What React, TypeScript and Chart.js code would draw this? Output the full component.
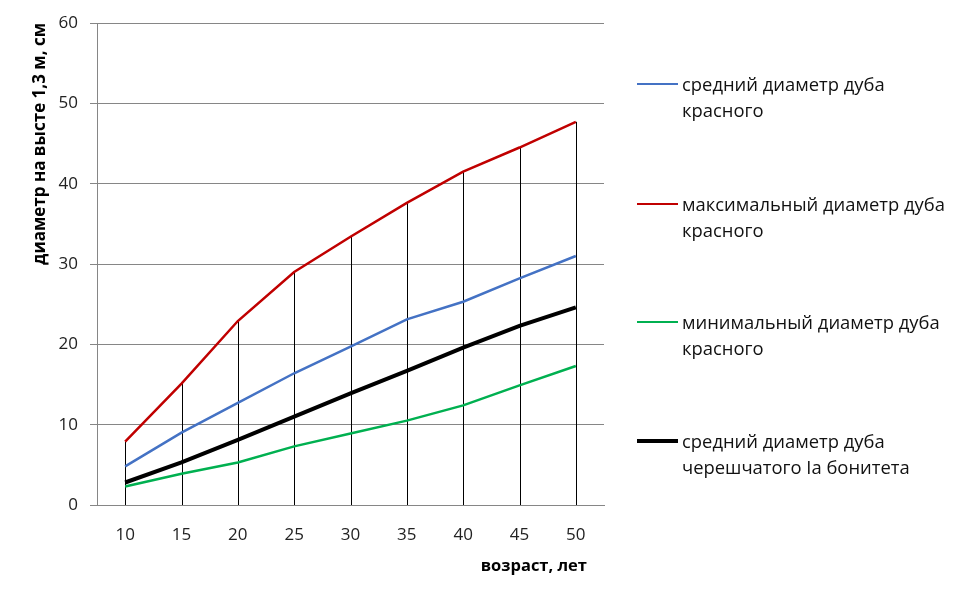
import React, { useEffect, useRef } from "react";
import { Chart, registerables } from "chart.js";

Chart.register(...registerables);

const ages = ["10", "15", "20", "25", "30", "35", "40", "45", "50"];
const meanRed = [4.8, 9.0, 12.7, 16.4, 19.7, 23.1, 25.3, 28.2, 31.0];
const maxRed = [7.9, 15.1, 22.9, 29.0, 33.4, 37.6, 41.5, 44.5, 47.7];
const minRed = [2.3, 3.9, 5.3, 7.3, 8.9, 10.5, 12.4, 14.9, 17.3];
const meanPedunculate = [2.8, 5.3, 8.1, 11.0, 13.9, 16.7, 19.6, 22.3, 24.6];

const seriesLabels = [
  ["средний диаметр дуба", "красного"],
  ["максимальный диаметр дуба", "красного"],
  ["минимальный диаметр дуба", "красного"],
  ["средний диаметр дуба", "черешчатого Ia бонитета"],
];
const seriesColors = ["#4472C4", "#C00000", "#00B050", "#000000"];
const seriesWidths = [2.5, 2.5, 2.5, 4];

const yTitle = "диаметр на высте 1,3 м, см";
const xTitle = "возраст, лет";

const FONT = "'Open Sans', 'DejaVu Sans', sans-serif";

// vertical drop lines from the max series to the x axis
const dropLines = {
  id: "dropLines",
  beforeDatasetsDraw(chart: any) {
    const meta = chart.getDatasetMeta(1);
    const base = chart.scales.y.getPixelForValue(0);
    const ctx = chart.ctx;
    ctx.save();
    ctx.strokeStyle = "#000";
    ctx.lineWidth = 1;
    meta.data.forEach((pt: any) => {
      const x = Math.round(pt.x) + 0.5;
      ctx.beginPath();
      ctx.moveTo(x, pt.y);
      ctx.lineTo(x, base);
      ctx.stroke();
    });
    ctx.restore();
  },
};

// x axis title, right-aligned a little inside the plot's right edge
const xTitlePlugin = {
  id: "xTitle",
  afterDraw(chart: any) {
    const { ctx, chartArea } = chart;
    ctx.save();
    ctx.font = `bold 16.5px ${FONT}`;
    ctx.fillStyle = "#000";
    ctx.textAlign = "right";
    ctx.textBaseline = "middle";
    ctx.fillText(xTitle, chartArea.right - 17, 566);
    ctx.restore();
  },
};

export default function App() {
  const canvasRef = useRef<HTMLCanvasElement | null>(null);

  useEffect(() => {
    document.body.style.margin = "0";
    if (!canvasRef.current) return;
    const ctx = canvasRef.current.getContext("2d")!;
    const data = [meanRed, maxRed, minRed, meanPedunculate];
    const chart = new Chart(ctx, {
      type: "line",
      data: {
        labels: ages,
        datasets: data.map((d, i) => ({
          label: seriesLabels[i].join(" "),
          data: d,
          borderColor: seriesColors[i],
          borderWidth: seriesWidths[i],
          pointRadius: 0,
          fill: false,
          tension: 0,
        })),
      },
      options: {
        animation: false,
        responsive: false,
        layout: { padding: { left: 26, top: 23, right: 360, bottom: 0 } },
        plugins: { legend: { display: false }, tooltip: { enabled: false } },
        scales: {
          x: {
            offset: true,
            grid: { display: false },
            border: { display: true, color: "#868686", width: 1 },
            ticks: { color: "#222", font: { family: FONT, size: 17 }, padding: 12 },
            afterFit: (s: any) => {
              s.height = 97;
            },
          },
          y: {
            min: 0,
            max: 60,
            ticks: { stepSize: 10, color: "#222", font: { family: FONT, size: 17 }, padding: 12 },
            grid: { color: "#868686", lineWidth: 1, tickLength: 7 },
            border: { display: true, color: "#868686", width: 1 },
            title: {
              display: true,
              text: yTitle,
              align: "end",
              color: "#000",
              font: { family: FONT, size: 17, weight: "bold" },
              padding: { top: 4, bottom: 4 },
            },
            afterFit: (s: any) => {
              s.width = 71;
            },
          },
        },
      },
      plugins: [dropLines, xTitlePlugin],
    });
    return () => chart.destroy();
  }, []);

  const legendTops = [71, 191, 309, 428];

  return (
    <div style={{ position: "relative", width: 964, height: 602, background: "#fff" }}>
      <canvas ref={canvasRef} width={964} height={602} style={{ width: 964, height: 602 }} />
      {seriesLabels.map((lines, i) => (
        <div
          key={i}
          style={{
            position: "absolute",
            left: 637,
            top: legendTops[i],
            fontFamily: FONT,
            fontSize: 18.4,
            lineHeight: "26px",
            color: "#111",
          }}
        >
          <span
            style={{
              position: "absolute",
              left: 0,
              top: 13 - seriesWidths[i] / 2,
              width: 41,
              height: seriesWidths[i],
              background: seriesColors[i],
            }}
          />
          <div style={{ marginLeft: 45, whiteSpace: "nowrap" }}>
            {lines.map((t, j) => (
              <div key={j}>{t}</div>
            ))}
          </div>
        </div>
      ))}
    </div>
  );
}
